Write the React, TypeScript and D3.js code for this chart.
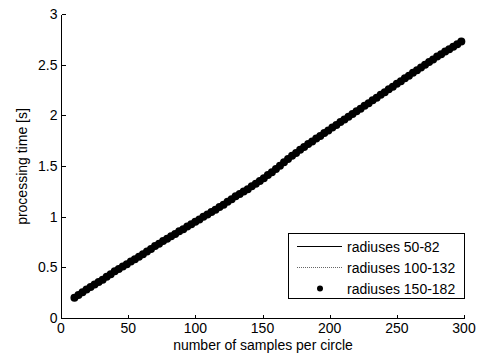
import React from 'react';
import * as d3 from 'd3';

// dot series (radiuses 150-182), every 3 samples
const dotSamples = [
  10, 13, 16, 19, 22, 25, 28, 31, 34, 37, 40, 43, 46, 49, 52, 55, 58, 61, 64, 67,
  70, 73, 76, 79, 82, 85, 88, 91, 94, 97, 100, 103, 106, 109, 112, 115, 118, 121, 124, 127,
  130, 133, 136, 139, 142, 145, 148, 151, 154, 157, 160, 163, 166, 169, 172, 175, 178, 181, 184, 187,
  190, 193, 196, 199, 202, 205, 208, 211, 214, 217, 220, 223, 226, 229, 232, 235, 238, 241, 244, 247,
  250, 253, 256, 259, 262, 265, 268, 271, 274, 277, 280, 283, 286, 289, 292, 295, 298,
];
const dotTimes = [
  0.200, 0.228, 0.253, 0.282, 0.305, 0.331, 0.355, 0.378, 0.407, 0.432, 0.461, 0.483, 0.509, 0.531, 0.557, 0.579, 0.605, 0.628, 0.657, 0.682,
  0.711, 0.733, 0.759, 0.781, 0.807, 0.829, 0.855, 0.877, 0.903, 0.925, 0.951, 0.973, 0.999, 1.021, 1.047, 1.069, 1.095, 1.118, 1.147, 1.172,
  1.201, 1.223, 1.249, 1.271, 1.299, 1.324, 1.353, 1.379, 1.411, 1.439, 1.471, 1.502, 1.537, 1.568, 1.601, 1.629, 1.661, 1.688, 1.717, 1.742,
  1.771, 1.796, 1.825, 1.850, 1.879, 1.904, 1.933, 1.958, 1.987, 2.012, 2.041, 2.066, 2.095, 2.120, 2.149, 2.174, 2.203, 2.228, 2.257, 2.282,
  2.311, 2.336, 2.365, 2.390, 2.419, 2.444, 2.473, 2.498, 2.527, 2.552, 2.581, 2.603, 2.629, 2.651, 2.677, 2.701, 2.729,
];

// line series, every 10 samples
const lineSamples = [10, 20, 30, 40, 50, 60, 70, 80, 90, 100, 110, 120, 130, 140, 150, 160, 170, 180, 190, 200, 210, 220, 230, 240, 250, 260, 270, 280, 290, 298];
const times50 = [0.20, 0.29, 0.37, 0.46, 0.54, 0.62, 0.71, 0.79, 0.87, 0.95, 1.03, 1.11, 1.20, 1.28, 1.37, 1.47, 1.58, 1.68, 1.77, 1.86, 1.95, 2.04, 2.13, 2.22, 2.31, 2.40, 2.49, 2.58, 2.66, 2.73];
const times100 = [0.20, 0.29, 0.37, 0.46, 0.54, 0.62, 0.70, 0.79, 0.87, 0.95, 1.03, 1.11, 1.19, 1.28, 1.37, 1.47, 1.57, 1.67, 1.76, 1.85, 1.94, 2.03, 2.12, 2.21, 2.29, 2.38, 2.46, 2.55, 2.63, 2.70];

const xTicks = [0, 50, 100, 150, 200, 250, 300];
const yTicks = [0, 0.5, 1, 1.5, 2, 2.5, 3];
const legendLabels = ['radiuses 50-82', 'radiuses 100-132', 'radiuses 150-182'];

const W = 482;
const H = 358;
const margin = { left: 61, right: 18, top: 14, bottom: 40 };
const font = '"Liberation Sans", Arial, sans-serif';
const fs = 14;

export default function App() {
  const x = d3.scaleLinear().domain([0, 300]).range([margin.left, W - margin.right]);
  const y = d3.scaleLinear().domain([0, 3]).range([H - margin.bottom, margin.top]);

  const line = d3.line<number>()
    .x((_, i) => x(lineSamples[i]))
    .y(d => y(d));

  const x0 = x(0) + 0.5, x1 = x(300) + 0.5, y0 = y(0) + 0.5, y1 = y(3) + 0.5;
  const tick = 4;

  // legend box
  const lgLeft = 288.5, lgRight = x1, lgBottom = 298.5, rowH = 21;
  const lgTop = lgBottom - rowH * 3 - 2;

  return (
    <svg width={W} height={H} style={{ position: 'absolute', left: 0, top: 0, background: '#fff' }}
      fontFamily={font}>
      <rect width={W} height={H} fill="#fff" />

      {/* series */}
      <path d={line(times50) || ''} fill="none" stroke="#000" strokeWidth={1} />
      <path d={line(times100) || ''} fill="none" stroke="#444" strokeWidth={0.8} strokeDasharray="1 1" />
      {dotTimes.map((v, i) => (
        <circle key={i} cx={x(dotSamples[i])} cy={y(v)} r={4} fill="#000" />
      ))}

      {/* axes */}
      <g shapeRendering="crispEdges">
        <line x1={x0} x2={x0} y1={y1} y2={y0} stroke="#000" strokeWidth={1} />
        <line x1={x0} x2={x1} y1={y0} y2={y0} stroke="#000" strokeWidth={1} />
        {yTicks.map(t => (
          <line key={'yt' + t} x1={x0} x2={x0 + tick} y1={Math.round(y(t)) + 0.5} y2={Math.round(y(t)) + 0.5} stroke="#000" />
        ))}
        {xTicks.map(t => (
          <line key={'xt' + t} x1={Math.round(x(t)) + 0.5} x2={Math.round(x(t)) + 0.5} y1={y0} y2={y0 - tick} stroke="#000" />
        ))}
      </g>
      {yTicks.map(t => (
        <text key={'y' + t} x={x0 - 4} y={y(t)} dy="0.36em" textAnchor="end" fontSize={fs}>{t}</text>
      ))}
      {xTicks.map(t => (
        <text key={'x' + t} x={x(t)} y={333} textAnchor="middle" fontSize={fs}>{t}</text>
      ))}
      <text x={(x0 + x1) / 2} y={350} textAnchor="middle" fontSize={fs}>number of samples per circle</text>
      <text transform={`translate(27,${(y0 + y1) / 2}) rotate(-90)`} textAnchor="middle" fontSize={fs}>processing time [s]</text>

      {/* legend */}
      <rect x={lgLeft} y={lgTop} width={lgRight - lgLeft} height={lgBottom - lgTop} fill="#fff" stroke="#000" strokeWidth={1} shapeRendering="crispEdges" />
      {legendLabels.map((lab, i) => {
        const cy = Math.round(lgTop + 12 + i * rowH) + 0.5;
        return (
          <g key={lab}>
            {i === 0 && <line x1={297} x2={342} y1={cy} y2={cy} stroke="#000" strokeWidth={1} shapeRendering="crispEdges" />}
            {i === 1 && <line x1={297} x2={342} y1={cy} y2={cy} stroke="#666" strokeWidth={1} strokeDasharray="1 1" shapeRendering="crispEdges" />}
            {i === 2 && <circle cx={320} cy={cy} r={3} fill="#000" />}
            <text x={347} y={cy} dy="0.36em" fontSize={fs}>{lab}</text>
          </g>
        );
      })}
    </svg>
  );
}
